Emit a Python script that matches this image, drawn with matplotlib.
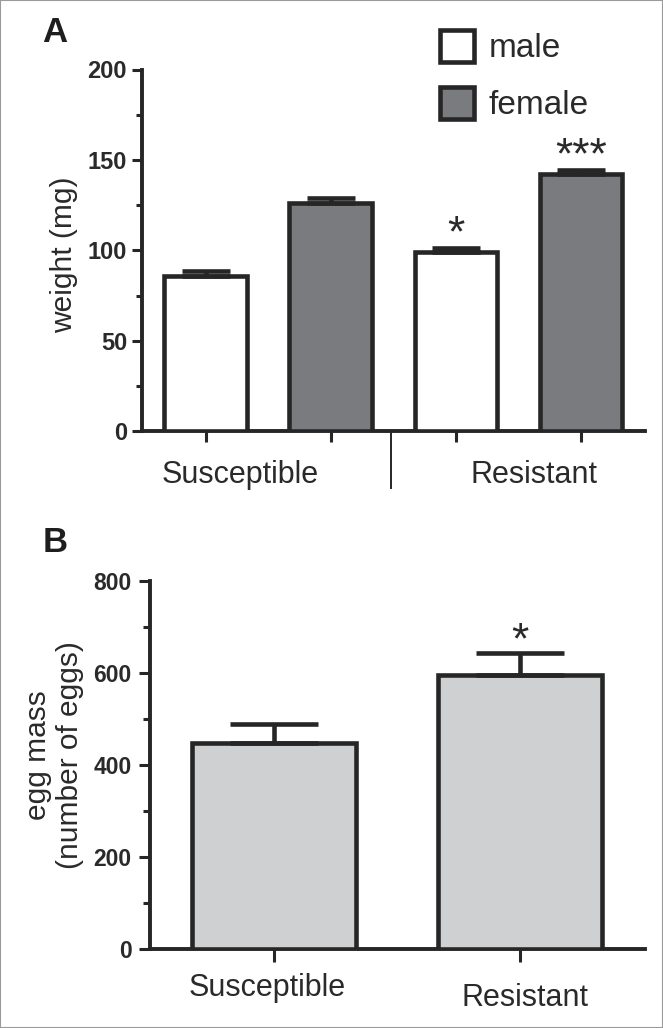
import numpy as np
import matplotlib
matplotlib.use("Agg")
import matplotlib.pyplot as plt
from matplotlib.patches import Rectangle

# ---------------- data ----------------
groups = ["Susceptible", "Resistant"]
sexes = ["male", "female"]
weight_male = [86, 99]
weight_male_sem = [2.8, 2.2]
weight_female = [126, 142]
weight_female_sem = [3.0, 2.4]
weight_male_sig = ["", "*"]
weight_female_sig = ["", "***"]

egg_mass = [448, 596]
egg_mass_sem = [40, 46]
egg_sig = ["", "*"]

# ---------------- style ----------------
W, H = 663, 1028
DPI = 100
TXT = "#2a2a2a"
EDGE = "#262626"
FEMALE = "#7a7b7f"
EGG = "#cfd0d2"
FONT = "Liberation Sans"
plt.rcParams["font.family"] = [FONT, "DejaVu Sans"]

LW = 3.3          # bar / errorbar line width (pt)
SPINE_LW = 2.8

def fx(px):
    return px / W

def fy(py):
    return 1 - py / H

fig = plt.figure(figsize=(W / DPI, H / DPI), dpi=DPI)
fig.patch.set_facecolor("white")

# ---------------- panel A ----------------
a_left, a_right, a_top, a_bot = 141.7, 645, 69.5, 431.3
axA = fig.add_axes([fx(a_left), fy(a_bot), fx(a_right - a_left), (a_bot - a_top) / H])

n_groups = len(groups)
xm = np.arange(n_groups) * 2
xf = xm + 1
bw = 0.66
barsM = axA.bar(xm, weight_male, bw, color="white", edgecolor=EDGE, linewidth=LW,
                label=sexes[0], zorder=3)
barsF = axA.bar(xf, weight_female, bw, color=FEMALE, edgecolor=EDGE, linewidth=LW,
                label=sexes[1], zorder=3)
axA.errorbar(xm, weight_male, yerr=[np.zeros(n_groups), weight_male_sem], fmt="none",
             ecolor=EDGE, elinewidth=LW, capsize=17.3, capthick=LW, zorder=4)
axA.errorbar(xf, weight_female, yerr=[np.zeros(n_groups), weight_female_sem], fmt="none",
             ecolor=EDGE, elinewidth=LW, capsize=17.3, capthick=LW, zorder=4)

for x, v, e, s in zip(xm, weight_male, weight_male_sem, weight_male_sig):
    if s:
        axA.annotate(s, xy=(x, v + e), xytext=(0, 1), textcoords="offset points",
                     ha="center", va="baseline", fontsize=32, color=TXT)
for x, v, e, s in zip(xf, weight_female, weight_female_sem, weight_female_sig):
    if s:
        axA.annotate(s, xy=(x, v + e), xytext=(0, 1), textcoords="offset points",
                     ha="center", va="baseline", fontsize=32, color=TXT)

axA.set_xlim(-0.51, 3.51)
axA.set_ylim(0, 200)
axA.set_yticks([0, 50, 100, 150, 200])
axA.set_yticks([25, 75, 125, 175], minor=True)
axA.set_xticks(np.concatenate([xm, xf]))
axA.set_xticklabels([])
for lab in axA.get_yticklabels():
    lab.set_fontweight("bold")
axA.tick_params(axis="y", which="major", length=7.5, width=2.2, pad=3, labelsize=17,
                colors=EDGE, labelcolor=TXT)
axA.tick_params(axis="y", which="minor", length=4.5, width=2.2, colors=EDGE)
axA.tick_params(axis="x", which="major", length=8, width=2.2, colors=EDGE)
for side in ["top", "right"]:
    axA.spines[side].set_visible(False)
for side in ["left", "bottom"]:
    axA.spines[side].set_linewidth(SPINE_LW)
    axA.spines[side].set_color(EDGE)

axA.text(-0.155, 0.487, "weight (mg)", transform=axA.transAxes, rotation=90,
         ha="center", va="center", fontsize=21.5, color=TXT)

group_centers_A = xm + 0.5
label_offsets_A = [-0.22, 0.125]
for gc, off, g in zip(group_centers_A, label_offsets_A, groups):
    axA.annotate(g, xy=(gc + off, 0), xycoords=("data", "axes fraction"),
                 xytext=(0, -20.5), textcoords="offset points",
                 ha="center", va="top", fontsize=22, color=TXT)
# separator between groups
axA.plot([1.48, 1.48], [0, -0.158], transform=axA.get_xaxis_transform(),
         color=EDGE, lw=1.4, clip_on=False)

leg = fig.legend(handles=[barsM, barsF], labels=sexes, loc="upper left",
                 bbox_to_anchor=(fx(439.5), fy(30)), frameon=False, fontsize=24,
                 handlelength=1.02, handleheight=1.1, handletextpad=0.46,
                 labelspacing=0.68, borderpad=0, borderaxespad=0)
for t in leg.get_texts():
    t.set_color(TXT)

fig.text(fx(42), fy(42), "A", ha="left", va="baseline", fontsize=25,
         fontweight="bold", color="#1e1e1e")

# ---------------- panel B ----------------
b_left, b_right, b_top, b_bot = 149.7, 645, 580.7, 948.7
axB = fig.add_axes([fx(b_left), fy(b_bot), fx(b_right - b_left), (b_bot - b_top) / H])
xb = np.arange(len(groups))
axB.bar(xb, egg_mass, 0.665, color=EGG, edgecolor=EDGE, linewidth=LW, zorder=3)
axB.errorbar(xb, egg_mass, yerr=[np.zeros(len(groups)), egg_mass_sem], fmt="none",
             ecolor=EDGE, elinewidth=LW, capsize=32, capthick=LW, zorder=4)
for x, v, e, s in zip(xb, egg_mass, egg_mass_sem, egg_sig):
    if s:
        axB.annotate(s, xy=(x, v + e), xytext=(0, 0), textcoords="offset points",
                     ha="center", va="baseline", fontsize=32, color=TXT)

axB.set_xlim(-0.502, 1.506)
axB.set_ylim(0, 800)
axB.set_yticks([0, 200, 400, 600, 800])
axB.set_yticks([100, 300, 500, 700], minor=True)
axB.set_xticks(xb)
axB.set_xticklabels([])
for lab in axB.get_yticklabels():
    lab.set_fontweight("bold")
axB.tick_params(axis="y", which="major", length=8, width=2.2, pad=5, labelsize=16.5,
                colors=EDGE, labelcolor=TXT)
axB.tick_params(axis="y", which="minor", length=4.8, width=2.2, colors=EDGE)
axB.tick_params(axis="x", which="major", length=9, width=2.2, colors=EDGE)
for side in ["top", "right"]:
    axB.spines[side].set_visible(False)
for side in ["left", "bottom"]:
    axB.spines[side].set_linewidth(SPINE_LW)
    axB.spines[side].set_color(EDGE)

axB.text(-0.193, 0.525, "egg mass\n(number of eggs)", transform=axB.transAxes,
         rotation=90, ha="center", va="center", fontsize=21.5, color=TXT,
         multialignment="center", linespacing=1.2)

label_offsets_B = [-0.027, 0.02]
label_drop_B = [17.5, 25]
for x, off, d, g in zip(xb, label_offsets_B, label_drop_B, groups):
    axB.annotate(g, xy=(x + off, 0), xycoords=("data", "axes fraction"),
                 xytext=(0, -d), textcoords="offset points",
                 ha="center", va="top", fontsize=22, color=TXT)

fig.text(fx(43), fy(552), "B", ha="left", va="baseline", fontsize=25,
         fontweight="bold", color="#1e1e1e")

# figure border
fig.patches.append(Rectangle((0, 0), 1, 1, transform=fig.transFigure, fill=False,
                             edgecolor="#9a9a9a", linewidth=1.5))

fig.savefig("out.png", dpi=DPI, facecolor="white")
